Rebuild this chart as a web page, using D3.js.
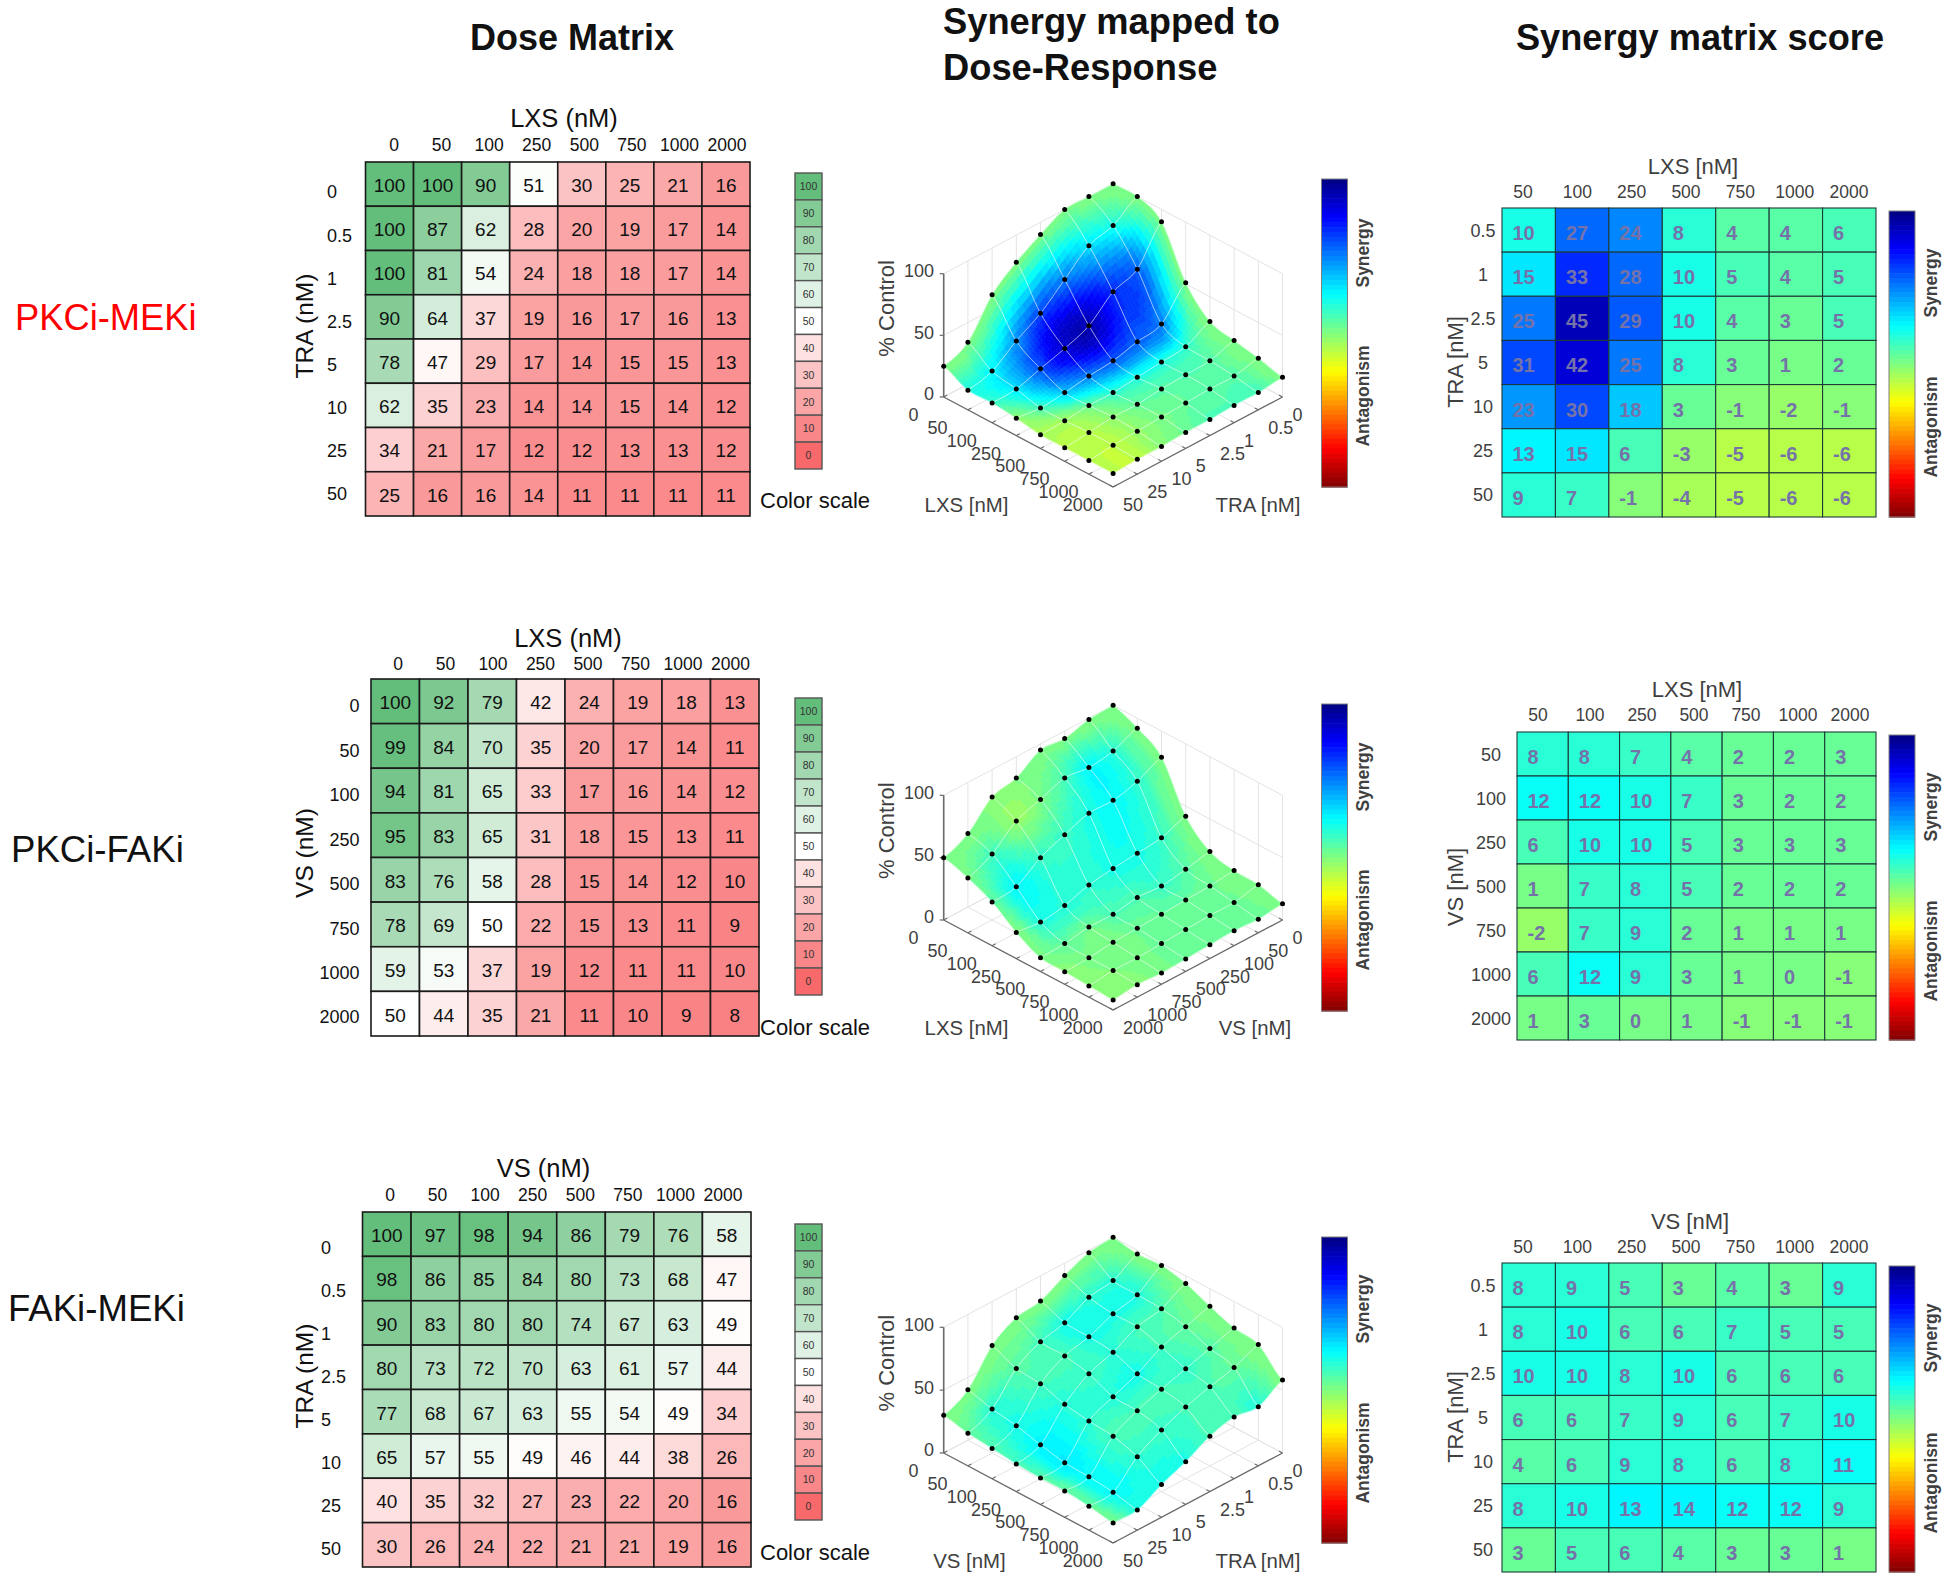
<!DOCTYPE html>
<html><head><meta charset="utf-8">
<script src="https://cdn.jsdelivr.net/npm/d3@7"></script>
<style>
html,body{margin:0;padding:0;background:#fff}
svg{display:block}
text{font-family:"Liberation Sans",Arial,sans-serif}
</style></head><body>
<svg id="chart" width="1950" height="1582"></svg>
<script>
// ---------- data ----------
const lxsDoses = ["0","50","100","250","500","750","1000","2000"];
const vsDoses  = ["0","50","100","250","500","750","1000","2000"];
const traDoses = ["0","0.5","1","2.5","5","10","25","50"];
const legendValues = [100,90,80,70,60,50,40,30,20,10,0];
const zTicks = [0,50,100];

const doseA = [
 [100,100,90,51,30,25,21,16],
 [100,87,62,28,20,19,17,14],
 [100,81,54,24,18,18,17,14],
 [90,64,37,19,16,17,16,13],
 [78,47,29,17,14,15,15,13],
 [62,35,23,14,14,15,14,12],
 [34,21,17,12,12,13,13,12],
 [25,16,16,14,11,11,11,11]];
const doseB = [
 [100,92,79,42,24,19,18,13],
 [99,84,70,35,20,17,14,11],
 [94,81,65,33,17,16,14,12],
 [95,83,65,31,18,15,13,11],
 [83,76,58,28,15,14,12,10],
 [78,69,50,22,15,13,11,9],
 [59,53,37,19,12,11,11,10],
 [50,44,35,21,11,10,9,8]];
const doseC = [
 [100,97,98,94,86,79,76,58],
 [98,86,85,84,80,73,68,47],
 [90,83,80,80,74,67,63,49],
 [80,73,72,70,63,61,57,44],
 [77,68,67,63,55,54,49,34],
 [65,57,55,49,46,44,38,26],
 [40,35,32,27,23,22,20,16],
 [30,26,24,22,21,21,19,16]];
const scoreA = [
 [10,27,24,8,4,4,6],
 [15,33,28,10,5,4,5],
 [25,45,29,10,4,3,5],
 [31,42,25,8,3,1,2],
 [23,30,18,3,-1,-2,-1],
 [13,15,6,-3,-5,-6,-6],
 [9,7,-1,-4,-5,-6,-6]];
const scoreB = [
 [8,8,7,4,2,2,3],
 [12,12,10,7,3,2,2],
 [6,10,10,5,3,3,3],
 [1,7,8,5,2,2,2],
 [-2,7,9,2,1,1,1],
 [6,12,9,3,1,0,-1],
 [1,3,0,1,-1,-1,-1]];
const scoreC = [
 [8,9,5,3,4,3,9],
 [8,10,6,6,7,5,5],
 [10,10,8,10,6,6,6],
 [6,6,7,9,6,7,10],
 [4,6,9,8,6,8,11],
 [8,10,13,14,12,12,9],
 [3,5,6,4,3,3,1]];

// ---------- colours ----------
const doseColor = d3.scaleLinear().domain([0,50,100]).range(["#F8696B","#FFFFFF","#63BE7B"]);
const jet = d3.scaleLinear().domain([50,37.5,12.5,-12.5,-37.5,-50])
  .range(["#000080","#0000ff","#00ffff","#ffff00","#ff0000","#800000"]);
const jetBands = d3.range(64).map(i => jet(-50 + (i+0.5)*100/64));
const bandColor = d3.scaleQuantize().domain([-50,50]).range(jetBands);

const svg = d3.select("#chart");
const FG = "#111", GR = "#404040", SCORE_TXT = "#7572aa";

function label(g, txt, x, y, size, opt={}) {
  const t = g.append("text").text(txt)
    .attr("font-size", size)
    .attr("fill", opt.fill || FG)
    .attr("text-anchor", opt.anchor || "middle")
    .attr("font-weight", opt.bold ? "bold" : null);
  if (opt.rotate) t.attr("transform", `translate(${x},${y}) rotate(-90)`).attr("dy", ".36em");
  else t.attr("x", x).attr("y", y).attr("dy", opt.baseline ? 0 : ".36em");
  return t;
}

// ---------- dose matrix ----------
function doseMatrix(p) {
  const g = svg.append("g");
  const x = d3.scaleBand().domain(d3.range(8)).range(p.gx);
  const y = d3.scaleBand().domain(d3.range(8)).range(p.gy);
  const rowsG = g.selectAll("g.r").data(p.data).join("g");
  rowsG.each(function(row, r) {
    const rg = d3.select(this);
    rg.selectAll("rect").data(row).join("rect")
      .attr("x", (d,c)=>x(c)).attr("y", y(r))
      .attr("width", x.bandwidth()).attr("height", y.bandwidth())
      .attr("fill", d=>doseColor(d)).attr("stroke", "#1a1a1a").attr("stroke-width", 1.6);
    rg.selectAll("text").data(row).join("text").text(d=>d)
      .attr("x", (d,c)=>x(c)+x.bandwidth()/2).attr("y", y(r)+y.bandwidth()/2+1)
      .attr("dy",".36em").attr("text-anchor","middle").attr("font-size",19).attr("fill",FG);
  });
  label(g, p.top, p.topX, p.topY, 25.5, {baseline:true});
  const tx = d3.scalePoint().domain(p.cols).range(p.colX);
  p.cols.forEach(d => label(g, d, tx(d), p.colY, 17.5));
  const ty = d3.scalePoint().domain(p.rows).range(p.rowY);
  p.rows.forEach(d => label(g, d, p.rowX, ty(d), 18, {anchor:p.rowAnchor}));
  label(g, p.side, 304, p.sideY, 24.5, {rotate:true});
  // legend
  const ly = d3.scaleBand().domain(legendValues).range(p.legY);
  g.selectAll("rect.leg").data(legendValues).join("rect").attr("class","leg")
    .attr("x",795).attr("width",27).attr("y",d=>ly(d)).attr("height",ly.bandwidth())
    .attr("fill",d=>doseColor(d)).attr("stroke","#555").attr("stroke-width",1.4);
  g.selectAll("text.leg").data(legendValues).join("text").attr("class","leg").text(d=>d)
    .attr("x",808.5).attr("y",d=>ly(d)+ly.bandwidth()/2).attr("dy",".36em")
    .attr("text-anchor","middle").attr("font-size",10.5).attr("fill","#333");
  label(g, "Color scale", 760, p.csY, 22, {anchor:"start"});
}

// ---------- spline surface helpers ----------
function cr(a,b,c,d,t){ return 0.5*((2*b)+(c-a)*t+(2*a-5*b+4*c-d)*t*t+(3*b-a-3*c+d)*t*t*t); }
function sampler(grid){
  const n = grid.length-1, cl = i => Math.max(0,Math.min(n,i));
  return (u,v)=>{
    const i = Math.min(Math.floor(u),n-1), j = Math.min(Math.floor(v),n-1);
    const tu = u-i, tv = v-j, vals = [];
    for(let k=-1;k<=2;k++){
      const R = grid[cl(j+k)];
      vals.push(cr(R[cl(i-1)],R[cl(i)],R[cl(i+1)],R[cl(i+2)],tu));
    }
    return cr(vals[0],vals[1],vals[2],vals[3],tv);
  };
}

// ---------- 3-D surface ----------
function surface(p) {
  const g = svg.append("g");
  const n = 7;
  const sx = d3.scaleLinear().domain([-n,n]).range([943.7,1282.5]);
  const sy = d3.scaleLinear().domain([0,2*n]).range([p.floorY-90,p.floorY+90]);
  const sz = d3.scaleLinear().domain([0,100]).range([0,-p.zH]);
  const X = (c,r)=>sx(c-r), Y = (c,r,z=0)=>sy(c+r)+sz(z);
  const seg = (x1,y1,x2,y2,stroke,w)=>g.append("line").attr("x1",x1).attr("y1",y1).attr("x2",x2).attr("y2",y2)
      .attr("stroke",stroke).attr("stroke-width",w);
  const WALL="#e3e3e3";
  // walls & floor grid
  d3.range(n+1).forEach(k=>{
    seg(X(0,k),Y(0,k),X(0,k),Y(0,k,100),WALL,1);
    seg(X(k,0),Y(k,0),X(k,0),Y(k,0,100),WALL,1);
    seg(X(k,0),Y(k,0),X(k,n),Y(k,n),WALL,1);
    seg(X(0,k),Y(0,k),X(n,k),Y(n,k),WALL,1);
  });
  zTicks.forEach(z=>{
    seg(X(0,n),Y(0,n,z),X(0,0),Y(0,0,z),WALL,1);
    seg(X(0,0),Y(0,0,z),X(n,0),Y(n,0,z),WALL,1);
  });
  // axes
  const AX="#6a6a6a";
  seg(X(0,n),Y(0,n),X(0,n),Y(0,n,100),AX,1.6);
  seg(X(0,n),Y(0,n),X(n,n),Y(n,n),AX,1.3);
  seg(X(n,n),Y(n,n),X(n,0),Y(n,0),AX,1.3);
  zTicks.forEach(z=>seg(X(0,n),Y(0,n,z),X(0,n)-4,Y(0,n,z),AX,1.2));
  d3.range(n+1).forEach(k=>{
    seg(X(k,n),Y(k,n),X(k,n)+3.5,Y(k,n)-1.9,AX,1.1);
    seg(X(n,k),Y(n,k),X(n,k)-3.5,Y(n,k)-1.9,AX,1.1);
  });
  // surface
  const zf = sampler(p.dose);
  const padded = [d3.range(8).map(()=>0)].concat(p.score.map(r=>[0].concat(r)));
  const cf = sampler(padded);
  const N = 8, step = 1/N, quads = [];
  for (let s=0; s<=(n*N*2-2); s++) {
    for (let a=0; a<n*N; a++) {
      const b = s-a; if (b<0||b>=n*N) continue;
      const u=a*step, v=b*step;
      const corners=[[u,v],[u+step,v],[u+step,v+step],[u,v+step]];
      quads.push({pts:corners.map(([c,r])=>[X(c,r),Y(c,r,zf(c,r))]), col:bandColor(cf(u+step/2,v+step/2))});
    }
  }
  g.append("g").selectAll("polygon").data(quads).join("polygon")
    .attr("points",d=>d.pts.map(q=>q.map(w=>w.toFixed(1)).join(",")).join(" "))
    .attr("fill",d=>d.col).attr("stroke",d=>d.col).attr("stroke-width",0.7);
  // mesh lines
  const line = d3.line();
  const fine = d3.range(0,n*N+1).map(i=>i*step);
  d3.range(n+1).forEach(k=>{
    g.append("path").attr("d",line(fine.map(t=>[X(k,t),Y(k,t,zf(k,t))])))
      .attr("fill","none").attr("stroke","#fff").attr("stroke-opacity",.6).attr("stroke-width",1);
    g.append("path").attr("d",line(fine.map(t=>[X(t,k),Y(t,k,zf(t,k))])))
      .attr("fill","none").attr("stroke","#fff").attr("stroke-opacity",.6).attr("stroke-width",1);
  });
  // data points
  const pts = p.dose.flatMap((row,r)=>row.map((z,c)=>({c,r,z})));
  g.append("g").selectAll("circle").data(pts).join("circle")
    .attr("cx",d=>X(d.c,d.r)).attr("cy",d=>Y(d.c,d.r,d.z)).attr("r",2.5).attr("fill","#000");
  // labels
  zTicks.forEach(z=>label(g,z,934,Y(0,n,z)-3,18,{anchor:"end",fill:GR}));
  label(g,"% Control",886,Y(0,n,50)-27,22,{rotate:true,fill:GR});
  p.cols.forEach((d,c)=>label(g,d,X(c,n)-30.3,Y(c,n)+17.5,18,{fill:GR}));
  p.rows.forEach((d,r)=>label(g,d,X(n,r)+10,Y(n,r)+17.5,18,{anchor:"start",fill:GR}));
  label(g,p.colT,p.colTX,p.titleY,20.4,{fill:GR});
  label(g,p.rowT,p.rowTX,p.titleY,20.4,{fill:GR});
  colorbar(g,1321.5,26,p.barY,1363,p.synY,p.antY);
}

function colorbar(g,x,w,yr,lx,synY,antY){
  const y = d3.scaleBand().domain(d3.range(64)).range(yr);
  g.append("g").selectAll("rect").data(jetBands.slice().reverse()).join("rect")
    .attr("x",x).attr("width",w).attr("y",(d,i)=>y(i)).attr("height",y.bandwidth()+.6).attr("fill",d=>d);
  g.append("rect").attr("x",x).attr("y",yr[0]).attr("width",w).attr("height",yr[1]-yr[0])
    .attr("fill","none").attr("stroke","#808080").attr("stroke-width",1);
  label(g,"Synergy",lx,synY,17.5,{rotate:true,bold:true,fill:GR});
  label(g,"Antagonism",lx,antY,17.5,{rotate:true,bold:true,fill:GR});
}

// ---------- synergy score matrix ----------
function scoreMatrix(p){
  const g = svg.append("g");
  const x = d3.scaleBand().domain(d3.range(7)).range(p.gx);
  const y = d3.scaleBand().domain(d3.range(7)).range(p.gy);
  g.selectAll("g.r").data(p.data).join("g").each(function(row,r){
    const rg=d3.select(this);
    rg.selectAll("rect").data(row).join("rect")
      .attr("x",(d,c)=>x(c)).attr("y",y(r)).attr("width",x.bandwidth()).attr("height",y.bandwidth())
      .attr("fill",d=>bandColor(d)).attr("stroke","#1c3a3a").attr("stroke-width",1.1);
    rg.selectAll("text").data(row).join("text").text(d=>d)
      .attr("x",(d,c)=>x(c)+10.5).attr("y",y(r)+y.bandwidth()/2+2.7).attr("dy",".36em")
      .attr("font-size",20).attr("font-weight","bold").attr("fill",SCORE_TXT);
  });
  label(g,p.top,p.topX,p.topY,22,{fill:GR});
  const tx=d3.scalePoint().domain(p.cols.slice(1)).range(p.colX);
  p.cols.slice(1).forEach(d=>label(g,d,tx(d),p.colY,17.5,{fill:GR}));
  const ty=d3.scalePoint().domain(p.rows.slice(1)).range(p.rowY);
  p.rows.slice(1).forEach(d=>label(g,d,p.rowX,ty(d),18,{fill:GR}));
  label(g,p.side,1455,p.sideY,22,{rotate:true,fill:GR});
  colorbar(g,1889,26,p.barY,1931,p.synY,p.antY);
}

// ---------- titles ----------
const head = svg.append("g");
label(head,"Dose Matrix",572,50,36,{bold:true,baseline:true});
label(head,"Synergy mapped to",943,34,36.3,{bold:true,baseline:true,anchor:"start"});
label(head,"Dose-Response",943,80,36.3,{bold:true,baseline:true,anchor:"start"});
label(head,"Synergy matrix score",1700,50,36.2,{bold:true,baseline:true});
label(head,"PKCi-MEKi",15,317,36.3,{anchor:"start",fill:"#ff0000"});
label(head,"PKCi-FAKi",11,849,36.6,{anchor:"start"});
label(head,"FAKi-MEKi",8,1308,36.6,{anchor:"start"});

// ---------- panels ----------
doseMatrix({data:doseA,gx:[365.5,750],gy:[162,516],cols:lxsDoses,rows:traDoses,top:"LXS (nM)",topX:564,topY:127,
  colX:[394,727],colY:145,rowX:327,rowAnchor:"start",rowY:[192,494],side:"TRA (nM)",sideY:326,legY:[173,469],csY:500});
doseMatrix({data:doseB,gx:[371,759],gy:[679,1036],cols:lxsDoses,rows:vsDoses,top:"LXS (nM)",topX:568,topY:647,
  colX:[398,730.5],colY:664,rowX:359.5,rowAnchor:"end",rowY:[706,1017],side:"VS (nM)",sideY:853,legY:[698,995],csY:1027});
doseMatrix({data:doseC,gx:[362.5,751],gy:[1212,1567],cols:vsDoses,rows:traDoses,top:"VS (nM)",topX:543.5,topY:1177,
  colX:[390,723],colY:1195,rowX:321,rowAnchor:"start",rowY:[1248,1549],side:"TRA (nM)",sideY:1376,legY:[1224,1520],csY:1552});

surface({dose:doseA,score:scoreA,cols:lxsDoses,rows:traDoses,floorY:397,zH:123.3,colT:"LXS [nM]",colTX:966.5,rowT:"TRA [nM]",rowTX:1258,titleY:505,
  barY:[179,487],synY:253,antY:396});
surface({dose:doseB,score:scoreB,cols:lxsDoses,rows:vsDoses,floorY:920,zH:124.7,colT:"LXS [nM]",colTX:966.5,rowT:"VS [nM]",rowTX:1255,titleY:1028,
  barY:[704,1011],synY:777,antY:920});
surface({dose:doseC,score:scoreC,cols:vsDoses,rows:traDoses,floorY:1453,zH:125.7,colT:"VS [nM]",colTX:969.5,rowT:"TRA [nM]",rowTX:1258,titleY:1561,
  barY:[1237,1543],synY:1309,antY:1453});

scoreMatrix({data:scoreA,gx:[1502,1876],gy:[208,517],cols:lxsDoses,rows:traDoses,top:"LXS [nM]",topX:1693,topY:166,colX:[1523,1849],colY:192,rowX:1483,rowY:[231,495],
  side:"TRA [nM]",sideY:362,barY:[211,517],synY:283,antY:427});
scoreMatrix({data:scoreB,gx:[1517,1876],gy:[732,1040],cols:lxsDoses,rows:vsDoses,top:"LXS [nM]",topX:1697,topY:689,colX:[1538,1850],colY:715,rowX:1491,rowY:[755,1019],
  side:"VS [nM]",sideY:887,barY:[735,1040],synY:807,antY:951});
scoreMatrix({data:scoreC,gx:[1502,1876],gy:[1263,1572],cols:vsDoses,rows:traDoses,top:"VS [nM]",topX:1690,topY:1221,colX:[1523,1849],colY:1247,rowX:1483,rowY:[1286,1550],
  side:"TRA [nM]",sideY:1417,barY:[1266,1572],synY:1338,antY:1483});
</script>
</body></html>
